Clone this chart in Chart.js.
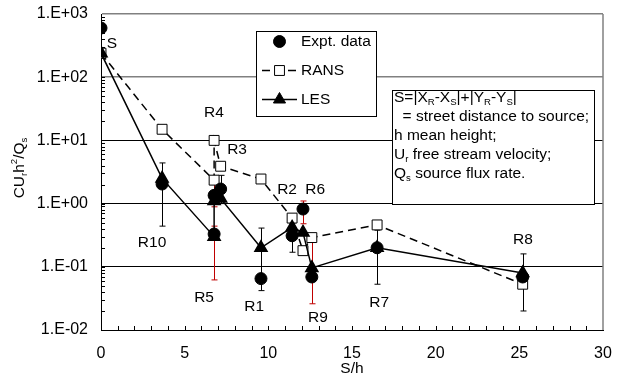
<!DOCTYPE html>
<html>
<head>
<meta charset="utf-8">
<script src="https://cdn.jsdelivr.net/npm/chart.js@4.4.1/dist/chart.umd.min.js"></script>
<style>
  html, body { margin: 0; padding: 0; background: #fff; }
  canvas { display: block; }
</style>
</head>
<body>
<canvas id="chart" width="624" height="378"></canvas>
<script>
// receptor order: S, R10, R5, R4, R3, R1, R2, R6, R9, R7, R8
const pointNames = ["S", "R10", "R5", "R4", "R3", "R1", "R2", "R6", "R9", "R7", "R8"];
const sOverH = [0, 3.65, 6.76, 6.76, 7.15, 9.56, 11.42, 12.07, 12.6, 16.5, 25.2];
const exptData = [600, 2.04, 0.33, 1.35, 1.7, 0.065, 0.31, 0.82, 0.069, 0.2, 0.069];
const exptLow = [null, 0.44, 0.062, 0.89, 1.0, 0.042, 0.17, 0.48, 0.026, 0.053, 0.02];
const exptHigh = [null, 4.4, 0.44, 2.54, 2.8, 0.41, 0.49, 1.1, 0.25, 0.38, 0.16];
const ransData = [240, 15, 2.35, 10, 3.9, 2.45, 0.59, 0.18, 0.29, 0.46, 0.053];
const lesData = [240, 2.5, 0.3, 1.1, 1.2, 0.2, 0.42, 0.35, 0.096, 0.2, 0.08];
const yTickValues = [0.01, 0.1, 1, 10, 100, 1000];
const xTickValues = [0, 5, 10, 15, 20, 25, 30];

const FONT = "'Liberation Sans', Arial, sans-serif";
const redBars = ["R5", "R4", "R6", "R9"];
// where each receptor name sits, in data units
const nameSpots = {
  S: [0.66, 335], R10: [3.05, 0.24], R5: [6.16, 0.032], R4: [6.75, 27], R3: [8.13, 7.0],
  R1: [9.15, 0.023], R2: [11.12, 1.64], R6: [12.8, 1.64], R9: [12.97, 0.0155],
  R7: [16.62, 0.0267], R8: [25.22, 0.265]
};

const toPoints = (values) => values.map((v, i) => ({ x: sOverH[i], y: v }));
const isDecade = (v) => Math.abs(Math.log10(v) - Math.round(Math.log10(v))) < 1e-6;
const formatDecade = (v) => {
  const e = Math.round(Math.log10(v));
  return "1.E" + (e < 0 ? "-" : "+") + String(Math.abs(e)).padStart(2, "0");
};

const errorBars = {
  id: "errorBars",
  beforeDatasetsDraw(chart) {
    const { ctx, scales: { x, y } } = chart;
    ctx.save();
    ctx.lineWidth = 1;
    sOverH.forEach((s, i) => {
      if (exptLow[i] == null) return;
      const px = Math.round(x.getPixelForValue(s)) + 0.5;
      const top = y.getPixelForValue(exptHigh[i]);
      const bottom = y.getPixelForValue(exptLow[i]);
      ctx.strokeStyle = redBars.includes(pointNames[i]) ? "#c00000" : "#000";
      ctx.beginPath();
      ctx.moveTo(px, top); ctx.lineTo(px, bottom);
      ctx.moveTo(px - 3, top); ctx.lineTo(px + 3, top);
      ctx.moveTo(px - 3, bottom); ctx.lineTo(px + 3, bottom);
      ctx.stroke();
    });
    ctx.restore();
  }
};

const frame = {
  id: "frame",
  beforeDatasetsDraw(chart) {
    const { ctx, chartArea: a, scales: { x, y } } = chart;
    ctx.save();
    ctx.strokeStyle = "#808080";
    ctx.lineWidth = 1.5;
    ctx.beginPath();
    ctx.moveTo(a.right, a.top); ctx.lineTo(a.right, a.bottom);
    ctx.stroke();
    // inner minor ticks
    ctx.strokeStyle = "#000";
    ctx.lineWidth = 1;
    ctx.beginPath();
    for (let e = -2; e < 3; e++) {
      for (let m = 1; m < 10; m++) {
        const py = Math.round(y.getPixelForValue(m * Math.pow(10, e))) + 0.5;
        ctx.moveTo(a.left, py); ctx.lineTo(a.left + 4, py);
      }
    }
    for (let s = 1; s < 30; s++) {
      const px = Math.round(x.getPixelForValue(s)) + 0.5;
      ctx.moveTo(px, a.bottom); ctx.lineTo(px, a.bottom - 4);
    }
    ctx.stroke();
    ctx.restore();
  }
};

function drawPieces(ctx, pieces, x, y, size) {
  // pieces: [text, shift] where shift is "sub", "sup" or ""
  let cx = x;
  pieces.forEach(([text, shift]) => {
    const fs = shift ? size * 0.62 : size;
    ctx.font = fs + "px " + FONT;
    const dy = shift === "sub" ? size * 0.28 : shift === "sup" ? -size * 0.35 : 0;
    ctx.fillText(text, cx, y + dy);
    cx += ctx.measureText(text).width;
  });
  return cx - x;
}

function piecesWidth(ctx, pieces, size) {
  let w = 0;
  pieces.forEach(([text, shift]) => {
    ctx.font = (shift ? size * 0.62 : size) + "px " + FONT;
    w += ctx.measureText(text).width;
  });
  return w;
}

const annotations = {
  id: "annotations",
  afterDatasetsDraw(chart) {
    const { ctx, scales: { x, y } } = chart;
    ctx.save();
    ctx.fillStyle = "#000";
    ctx.font = "15.5px " + FONT;
    ctx.textAlign = "center";
    ctx.textBaseline = "middle";
    pointNames.forEach((name) => {
      const [sx, sy] = nameSpots[name];
      ctx.fillText(name, x.getPixelForValue(sx), y.getPixelForValue(sy));
    });
    ctx.restore();
  },
  afterDraw(chart) {
    const { ctx } = chart;
    ctx.save();
    ctx.textBaseline = "middle";
    ctx.fillStyle = "#000";

    // y axis title, rotated
    const yTitle = [["CU", ""], ["r", "sub"], ["h", ""], ["2", "sup"], ["/Q", ""], ["s", "sub"]];
    ctx.save();
    ctx.translate(20, 168);
    ctx.rotate(-Math.PI / 2);
    const tw = piecesWidth(ctx, yTitle, 15.5);
    drawPieces(ctx, yTitle, -tw / 2, 0, 15.5);
    ctx.restore();

    // legend box
    ctx.fillStyle = "#fff";
    ctx.fillRect(256, 31, 120, 85);
    ctx.strokeStyle = "#000";
    ctx.lineWidth = 1;
    ctx.strokeRect(256.5, 31.5, 120, 85);
    chart.data.datasets.forEach((ds, i) => {
      const ly = 41 + i * 29;
      if (ds.showLine) {
        ctx.save();
        ctx.strokeStyle = ds.borderColor;
        ctx.lineWidth = ds.borderWidth;
        ctx.setLineDash(ds.borderDash || []);
        ctx.beginPath();
        ctx.moveTo(262, ly + 0.5); ctx.lineTo(297, ly + 0.5);
        ctx.stroke();
        ctx.restore();
      }
      ctx.fillStyle = ds.pointBackgroundColor;
      ctx.strokeStyle = ds.pointBorderColor;
      ctx.lineWidth = 1;
      Chart.helpers.drawPoint(ctx, { pointStyle: ds.pointStyle, radius: ds.pointRadius, rotation: 0, borderWidth: 1 }, 279.5, ly + 0.5);
      ctx.fillStyle = "#000";
      ctx.font = "15.5px " + FONT;
      ctx.textAlign = "left";
      ctx.fillText(ds.label, 301, ly + 1);
    });

    // definitions box
    ctx.fillStyle = "#fff";
    ctx.fillRect(392, 90, 202, 114);
    ctx.strokeStyle = "#000";
    ctx.strokeRect(392.5, 90.5, 202, 114);
    ctx.fillStyle = "#000";
    ctx.textAlign = "left";
    const fs = 15.5;
    drawPieces(ctx, [["S=|X", ""], ["R", "sub"], ["-X", ""], ["S", "sub"], ["|+|Y", ""], ["R", "sub"], ["-Y", ""], ["S", "sub"], ["|", ""]], 394, 98, fs);
    drawPieces(ctx, [["  = street distance to source;", ""]], 394, 117, fs);
    drawPieces(ctx, [["h mean height;", ""]], 394, 136, fs);
    drawPieces(ctx, [["U", ""], ["r", "sub"], [" free stream velocity;", ""]], 394, 155, fs);
    drawPieces(ctx, [["Q", ""], ["s", "sub"], [" source flux rate.", ""]], 394, 174, fs);
    ctx.restore();
  }
};

new Chart(document.getElementById("chart"), {
  type: "scatter",
  data: {
    datasets: [
      {
        label: "Expt. data",
        data: toPoints(exptData),
        showLine: false,
        pointStyle: "circle",
        pointRadius: 6,
        pointBackgroundColor: "#000",
        pointBorderColor: "#000",
        order: 0
      },
      {
        label: "RANS",
        data: toPoints(ransData),
        showLine: true,
        borderColor: "#000",
        borderWidth: 1.5,
        borderDash: [8, 5],
        pointStyle: "rect",
        pointRadius: 7,
        pointBackgroundColor: "#fff",
        pointBorderColor: "#000",
        pointBorderWidth: 1,
        order: 2
      },
      {
        label: "LES",
        data: toPoints(lesData),
        showLine: true,
        borderColor: "#000",
        borderWidth: 1.5,
        pointStyle: "triangle",
        pointRadius: 7,
        pointBackgroundColor: "#000",
        pointBorderColor: "#000",
        order: 1
      }
    ]
  },
  options: {
    responsive: false,
    animation: false,
    devicePixelRatio: 1,
    layout: { padding: { left: 0, right: 21, top: 14, bottom: 0 } },
    plugins: {
      legend: { display: false },
      tooltip: { enabled: false }
    },
    scales: {
      x: {
        type: "linear",
        min: 0,
        max: 30,
        afterBuildTicks: (scale) => { scale.ticks = xTickValues.map((v) => ({ value: v })); },
        afterFit: (scale) => {
          scale.height = 48;
          scale.paddingLeft = 0;
          scale.paddingRight = 0;
        },
        grid: { display: true, drawOnChartArea: false, drawTicks: false },
        border: { color: "#000", width: 1 },
        ticks: { color: "#000", font: { family: FONT, size: 16 }, padding: 14, maxRotation: 0 },
        title: { display: true, text: "S/h", color: "#000", font: { family: FONT, size: 15.5 }, padding: { top: 0, bottom: 0 } }
      },
      y: {
        type: "logarithmic",
        min: 0.01,
        max: 1000,
        afterBuildTicks: (scale) => { scale.ticks = yTickValues.map((v) => ({ value: v })); },
        afterFit: (scale) => {
          scale.width = 101;
          scale.paddingTop = 0;
          scale.paddingBottom = 0;
        },
        grid: {
          drawTicks: false,
          color: (c) => (c.tick && c.tick.value >= 100 ? "#808080" : "#000"),
          lineWidth: (c) => (c.tick && c.tick.value >= 100 ? 1.5 : 1)
        },
        border: { color: "#000", width: 1 },
        ticks: {
          color: "#000",
          font: { family: FONT, size: 16 },
          padding: 13,
          autoSkip: false,
          callback: (v) => (isDecade(v) ? formatDecade(v) : "")
        }
      }
    }
  },
  plugins: [frame, errorBars, annotations]
});
</script>
</body>
</html>
